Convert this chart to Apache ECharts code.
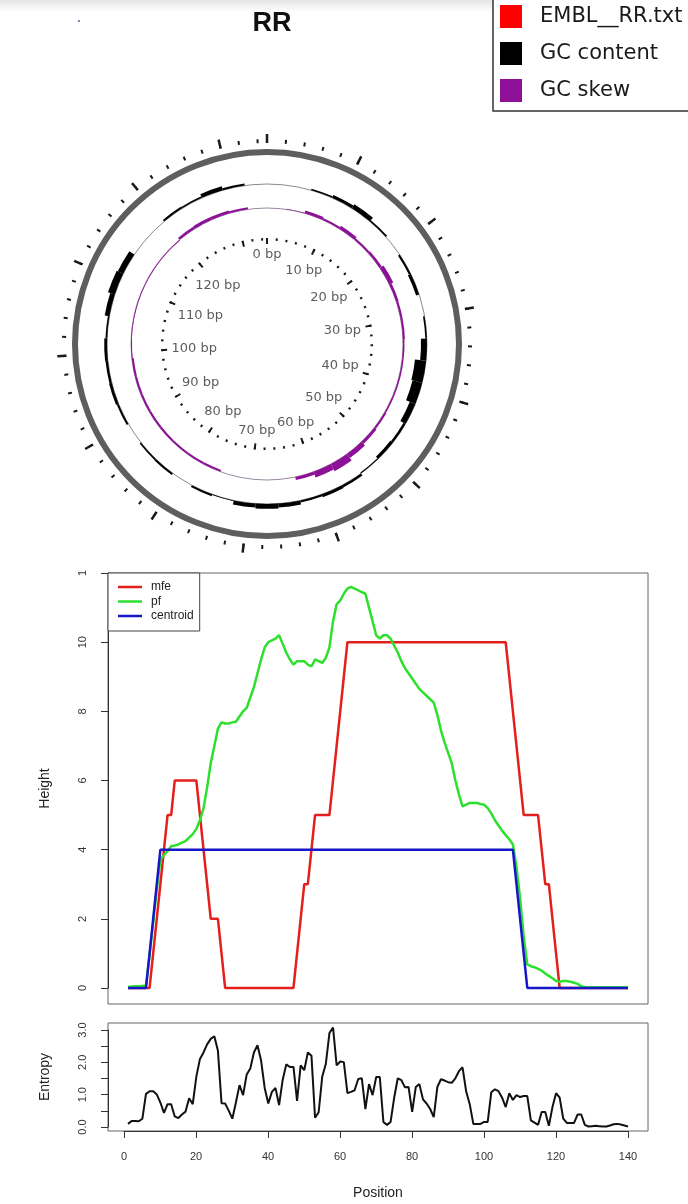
<!DOCTYPE html>
<html>
<head>
<meta charset="utf-8">
<script src="https://cdn.jsdelivr.net/npm/echarts/dist/echarts.min.js"></script>
<style>
  html, body { margin: 0; padding: 0; background: #fff; }
  #main { width: 688px; height: 1204px; }
</style>
</head>
<body>
<div id="main"></div>
<script>
// ---- data ----
const seqLength = 135;           // bp around the circle
const windowSize = 3;            // bp per GC window
const ringLabels = [0, 10, 20, 30, 40, 50, 60, 70, 80, 90, 100, 110, 120];

// GC content deviation per window (outward > 0, inward < 0)
const gcContent = [0, 0, 0.04, 0.08, 0.12, 0.04, 0, -0.05, -0.08, 0,
  -0.04, -0.15, -0.28, -0.25, -0.15, -0.06, -0.08, -0.03, 0.06, 0.08,
  0.05, 0.1, 0.12, 0.1, 0.02, 0.05, 0, 0.05, 0.04, 0,
  0.05, 0.07, 0.06, 0.07, 0.04, 0.12, 0.18, 0.15, 0, 0,
  0.05, 0.04, 0.1, 0.05, 0];
// GC skew per window
const gcSkew = [0, 0.05, 0.3, 0.2, 0.35, 0.2, 0.25, 0.45, 0.25, 0.2,
  0.2, 0.15, 0.15, 0.15, 0.15, 0.2, 0.3, 0.5, 0.8, 0.6,
  0.3, 0, 0, 0, 0, -0.2, -0.2, -0.2, -0.2, -0.2,
  -0.2, -0.2, -0.2, -0.1, -0.08, -0.08, -0.08, -0.08, -0.08, -0.08,
  0.25, 0.3, 0.3, 0.2, 0];

const mfe = [0,0,0,0,0,0,0,1,2,3,
  4,5,5,6,6,6,6,6,6,6,
  5,4,3,2,2,2,1,0,0,0,
  0,0,0,0,0,0,0,0,0,0,
  0,0,0,0,0,0,0,1,2,3,
  3,4,5,5,5,5,5,6,7,8,
  9,10,10,10,10,10,10,10,10,10,
  10,10,10,10,10,10,10,10,10,10,
  10,10,10,10,10,10,10,10,10,10,
  10,10,10,10,10,10,10,10,10,10,
  10,10,10,10,10,10,9,8,7,6,
  5,5,5,5,5,4,3,3,2,1,
  0,0,0,0,0,0,0,0,0,0,
  0,0,0,0,0,0,0,0,0,0];
const pf = [0.03,0.04,0.05,0.05,0.06,0.07,0.95,1.9,2.85,3.7,
  3.85,3.95,4.1,4.12,4.15,4.2,4.25,4.35,4.45,4.6,
  4.85,5.2,5.8,6.5,7.0,7.5,7.68,7.65,7.65,7.68,
  7.7,7.85,8.0,8.1,8.4,8.7,9.1,9.5,9.85,10.0,
  10.05,10.1,10.2,9.95,9.7,9.5,9.35,9.45,9.45,9.45,
  9.35,9.3,9.5,9.45,9.4,9.55,9.85,10.6,11.1,11.2,
  11.4,11.55,11.6,11.55,11.5,11.45,11.4,11.0,10.6,10.2,
  10.1,10.2,10.2,10.1,9.9,9.7,9.45,9.25,9.1,8.95,
  8.8,8.65,8.55,8.45,8.35,8.25,7.9,7.45,7.1,6.8,
  6.5,6.0,5.6,5.25,5.3,5.35,5.35,5.35,5.32,5.3,
  5.2,5.05,4.85,4.7,4.55,4.42,4.3,4.15,3.5,2.6,
  1.5,0.68,0.63,0.6,0.55,0.5,0.42,0.35,0.28,0.2,
  0.18,0.2,0.2,0.18,0.15,0.12,0.05,0.03,0.02,0.02,
  0.02,0.02,0.02,0.02,0.02,0.02,0.02,0.02,0.02,0.02];
const centroid = [0,0,0,0,0,0,1,2,3,4,
  4,4,4,4,4,4,4,4,4,4,
  4,4,4,4,4,4,4,4,4,4,
  4,4,4,4,4,4,4,4,4,4,
  4,4,4,4,4,4,4,4,4,4,
  4,4,4,4,4,4,4,4,4,4,
  4,4,4,4,4,4,4,4,4,4,
  4,4,4,4,4,4,4,4,4,4,
  4,4,4,4,4,4,4,4,4,4,
  4,4,4,4,4,4,4,4,4,4,
  4,4,4,4,4,4,4,4,3,2,
  1,0,0,0,0,0,0,0,0,0,
  0,0,0,0,0,0,0,0,0,0,
  0,0,0,0,0,0,0,0,0,0];
const entropy = [0.09,0.18,0.18,0.17,0.25,1.02,1.1,1.1,1.0,0.75,
  0.43,0.7,0.7,0.32,0.27,0.38,0.47,0.88,0.7,1.55,
  2.1,2.3,2.55,2.72,2.8,2.35,0.73,0.72,0.5,0.25,
  0.75,1.29,0.98,1.62,1.8,2.3,2.52,2.05,1.2,0.72,
  1.08,1.2,0.67,1.45,1.93,1.85,1.85,0.8,1.9,1.75,
  2.3,2.2,0.28,0.45,1.55,1.95,2.9,3.07,1.9,2.02,
  2.0,1.04,1.08,1.13,1.48,1.5,0.55,1.32,0.98,1.54,
  1.54,0.15,0.06,0.15,0.9,1.5,1.44,1.22,1.23,0.46,
  1.23,1.32,0.85,0.72,0.55,0.3,1.23,1.47,1.43,1.38,
  1.36,1.5,1.72,1.84,1.1,0.7,0.09,0.09,0.09,0.15,
  0.15,1.07,1.16,1.1,0.9,0.61,1.04,0.83,0.98,0.92,
  0.95,0.95,0.2,0.13,0.06,0.46,0.46,0.03,0.61,1.04,
  0.9,0.25,0.12,0.12,0.12,0.38,0.38,0.06,0.01,0.02,
  0.03,0.02,0.01,0.01,0.04,0.08,0.09,0.07,0.04,0.01];
const positions = mfe.map((_, i) => i + 1);

// ---- helpers ----
const pairs = vals => vals.map((v, i) => [positions[i], v]);
const windows = vals => vals.map((v, i) => [v, i * windowSize, (i + 1) * windowSize]);

// radial bars drawn from the zero ring of a polar radius axis
function ringBars(params, api) {
  const cs = params.coordSys;
  const v = api.value(0), a0 = api.value(1), a1 = api.value(2);
  const pb = api.coord([0, a0]);
  const p0 = api.coord([v, a0]);
  const p1 = api.coord([v, a1]);
  const rb = Math.hypot(pb[0] - cs.cx, pb[1] - cs.cy);
  const rv = Math.hypot(p0[0] - cs.cx, p0[1] - cs.cy);
  const s = Math.atan2(p0[1] - cs.cy, p0[0] - cs.cx);
  let e = Math.atan2(p1[1] - cs.cy, p1[0] - cs.cx);
  if (e < s) e += Math.PI * 2;
  return {
    type: 'sector',
    shape: { cx: cs.cx, cy: cs.cy, r0: Math.min(rb, rv), r: Math.max(rb, rv) + 0.01, startAngle: s, endAngle: e, clockwise: true },
    style: api.style()
  };
}

const center = [267, 344];
const polarRadius = [[0, 201], [0, 201], [0, 192], [0, 160], [148, 172], [0, 136], [126, 146], [0, 106], [0, 106], [0, 97]];
const radiusRange = { 4: [-0.3, 0.3], 6: [-1, 1] };

function angleAxis(i, extra) {
  return Object.assign({
    polarIndex: i, type: 'value', min: 0, max: seqLength, startAngle: 90, clockwise: true,
    axisLine: { show: false }, axisTick: { show: false }, axisLabel: { show: false },
    splitLine: { show: false }, silent: true
  }, extra);
}

const tickStyle = { color: '#1a1a1a', width: 2 };
const angleAxes = [
  angleAxis(0, { interval: 2, axisTick: { show: true, length: 4, lineStyle: tickStyle } }),
  angleAxis(1, { interval: 10, axisTick: { show: true, length: 9, lineStyle: { color: '#1a1a1a', width: 2.5 } } }),
  angleAxis(2, { axisLine: { show: true, lineStyle: { color: '#5e5e5e', width: 6 } } }),
  angleAxis(3, { axisLine: { show: true, lineStyle: { color: '#8a8a8a', width: 1 } } }),
  angleAxis(4),
  angleAxis(5, { axisLine: { show: true, lineStyle: { color: '#9a8a9e', width: 1 } } }),
  angleAxis(6),
  angleAxis(7, { interval: 2, axisTick: { show: true, inside: true, length: 2.5, lineStyle: tickStyle } }),
  angleAxis(8, { interval: 10, axisTick: { show: true, inside: true, length: 6, lineStyle: tickStyle } }),
  angleAxis(9)
];
const radiusAxes = polarRadius.map((_, i) => {
  const r = radiusRange[i] || [0, 1];
  return { polarIndex: i, type: 'value', min: r[0], max: r[1], show: false };
});

// ring labels, nudged inward by their own half extent
const measure = document.createElement('canvas').getContext('2d');
measure.font = '13px "DejaVu Sans"';
const labelData = ringLabels.map(bp => {
  const name = bp + ' bp';
  const t = bp / seqLength * Math.PI * 2;
  const w = measure.measureText(name).width;
  const d = Math.abs(Math.sin(t)) * w / 2 + Math.abs(Math.cos(t)) * 6.5 + 1;
  return { name: name, value: [1, bp], label: { offset: [-Math.sin(t) * d, Math.cos(t) * d] } };
});

const axisText = { fontFamily: 'Liberation Sans', fontSize: 11, color: '#333' };
const nameText = { fontFamily: 'Liberation Sans', fontSize: 14, color: '#222' };
const hidden = { axisLine: { show: false }, axisTick: { show: false }, axisLabel: { show: false }, splitLine: { show: false } };

const chart = echarts.init(document.getElementById('main'), null, { renderer: 'canvas' });
chart.setOption({
  animation: false,
  backgroundColor: '#fff',
  title: {
    text: 'RR', left: 267, top: 5, textAlign: 'center',
    textStyle: { fontFamily: 'Liberation Sans', fontWeight: 'bold', fontSize: 27, color: '#111' }
  },
  graphic: [
    { type: 'rect', z: -10, shape: { x: 0, y: 0, width: 688, height: 12 },
      style: { fill: new echarts.graphic.LinearGradient(0, 0, 0, 1, [{ offset: 0, color: '#e4e4e4' }, { offset: 1, color: '#ffffff' }]) } },
    { type: 'circle', shape: { cx: 79, cy: 21, r: 1.1 }, style: { fill: '#5a6aa8' } }
  ],
  legend: [
    {
      data: ['EMBL__RR.txt', 'GC content', 'GC skew'],
      orient: 'vertical', left: 493, top: -1, icon: 'rect', itemWidth: 22, itemHeight: 23, itemGap: 14,
      padding: [6, 8, 9, 7], borderColor: '#333', borderWidth: 1.5, backgroundColor: '#fff', selectedMode: false,
      textStyle: { fontFamily: 'DejaVu Sans', fontSize: 21, color: '#1a1a1a', padding: [0, 0, 0, 13] }
    },
    {
      data: ['mfe', 'pf', 'centroid'],
      orient: 'vertical', left: 108, top: 573, icon: 'rect', itemWidth: 24, itemHeight: 2.5, itemGap: 2.5,
      padding: [8, 6, 9, 10], borderColor: '#444', borderWidth: 1, backgroundColor: '#fff', selectedMode: false,
      textStyle: { fontFamily: 'Liberation Sans', fontSize: 12, color: '#222', padding: [0, 0, 0, 4] }
    }
  ],
  polar: polarRadius.map(r => ({ center: center, radius: r })),
  angleAxis: angleAxes,
  radiusAxis: radiusAxes,
  grid: [
    { left: 108, top: 573, width: 540, height: 431, show: true, borderColor: '#666', borderWidth: 1, outerBoundsMode: 'none' },
    { left: 108, top: 573, width: 540, height: 415, outerBoundsMode: 'none' },
    { left: 108, top: 1023, width: 540, height: 108, show: true, borderColor: '#666', borderWidth: 1, outerBoundsMode: 'none' },
    { left: 108, top: 1030, width: 540, height: 97, outerBoundsMode: 'none' },
    { left: 124, top: 1023, width: 504, height: 108, outerBoundsMode: 'none' }
  ],
  xAxis: [
    { gridIndex: 0, type: 'value', min: -4.56, max: 145.56, show: false },
    { gridIndex: 1, type: 'value', min: 0, max: 1, show: false },
    Object.assign({ gridIndex: 2, type: 'value', min: -4.56, max: 145.56, name: 'Position',
      nameLocation: 'middle', nameGap: 55, nameTextStyle: nameText }, hidden),
    { gridIndex: 3, type: 'value', min: 0, max: 1, show: false },
    { gridIndex: 4, type: 'value', min: 0, max: 140, interval: 20, position: 'bottom',
      axisLine: { onZero: false, lineStyle: { color: '#333' } },
      axisTick: { length: 7, lineStyle: { color: '#333' } },
      axisLabel: Object.assign({ margin: 20 }, axisText), splitLine: { show: false } }
  ],
  yAxis: [
    Object.assign({ gridIndex: 0, type: 'value', min: -0.463, max: 12, name: 'Height',
      nameLocation: 'middle', nameGap: 56, nameTextStyle: nameText }, hidden),
    { gridIndex: 1, type: 'value', min: 0, max: 12, interval: 2,
      axisLine: { show: true, onZero: false, lineStyle: { color: '#333' } },
      axisTick: { show: true, length: 7, lineStyle: { color: '#333' } },
      axisLabel: Object.assign({ rotate: 90, margin: 20, formatter: v => v === 12 ? '1' : String(v) }, axisText),
      splitLine: { show: false } },
    Object.assign({ gridIndex: 2, type: 'value', min: -0.13, max: 3.21, name: 'Entropy',
      nameLocation: 'middle', nameGap: 56, nameTextStyle: nameText }, hidden),
    { gridIndex: 3, type: 'value', min: 0, max: 3, interval: 0.5,
      axisLine: { show: true, onZero: false, lineStyle: { color: '#333' } },
      axisTick: { show: true, length: 7, lineStyle: { color: '#333' } },
      axisLabel: Object.assign({ rotate: 90, margin: 20, formatter: v => Number.isInteger(v) ? v.toFixed(1) : '' }, axisText),
      splitLine: { show: false } },
    { gridIndex: 4, type: 'value', min: 0, max: 1, show: false }
  ],
  series: [
    { name: 'EMBL__RR.txt', type: 'custom', coordinateSystem: 'polar', polarIndex: 4, silent: true,
      itemStyle: { color: '#ff0000' }, renderItem: ringBars, data: [] },
    { name: 'GC content', type: 'custom', coordinateSystem: 'polar', polarIndex: 4, silent: true,
      itemStyle: { color: '#000000' }, encode: { radius: 0, angle: 1 }, renderItem: ringBars, data: windows(gcContent) },
    { name: 'GC skew', type: 'custom', coordinateSystem: 'polar', polarIndex: 6, silent: true,
      itemStyle: { color: '#8e0f98' }, encode: { radius: 0, angle: 1 }, renderItem: ringBars, data: windows(gcSkew) },
    { type: 'scatter', coordinateSystem: 'polar', polarIndex: 9, silent: true, symbolSize: 1,
      itemStyle: { color: 'rgba(0,0,0,0)' },
      label: { show: true, position: 'inside', formatter: '{b}', fontFamily: 'DejaVu Sans', fontSize: 13, color: '#333' },
      data: labelData },
    { name: 'mfe', type: 'line', xAxisIndex: 0, yAxisIndex: 0, color: '#e3201c', showSymbol: false, silent: true,
      lineStyle: { width: 2.5 }, data: pairs(mfe) },
    { name: 'pf', type: 'line', xAxisIndex: 0, yAxisIndex: 0, color: '#2ee02e', showSymbol: false, silent: true,
      lineStyle: { width: 2.5 }, data: pairs(pf) },
    { name: 'centroid', type: 'line', xAxisIndex: 0, yAxisIndex: 0, color: '#1717c9', showSymbol: false, silent: true,
      lineStyle: { width: 2.5 }, data: pairs(centroid) },
    { name: 'entropy', type: 'line', xAxisIndex: 2, yAxisIndex: 2, color: '#111', showSymbol: false, silent: true,
      lineStyle: { width: 2 }, data: pairs(entropy) }
  ]
});
</script>
</body>
</html>
